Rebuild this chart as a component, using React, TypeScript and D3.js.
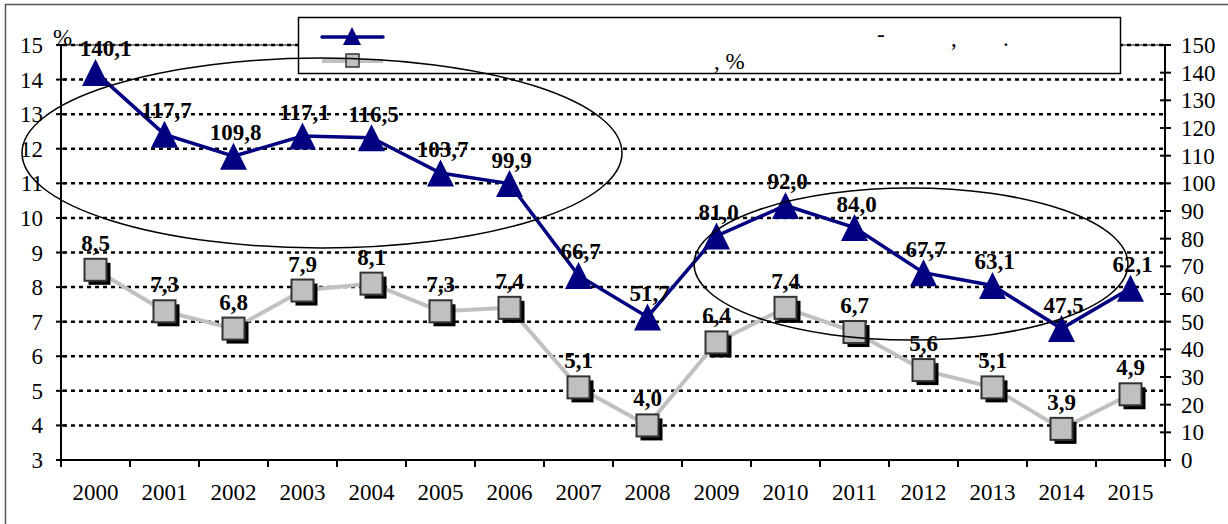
import React from 'react';
import * as d3 from 'd3';

// chart data
const years = ['2000', '2001', '2002', '2003', '2004', '2005', '2006', '2007', '2008', '2009', '2010', '2011', '2012', '2013', '2014', '2015'];
const blueValues = [140.1, 117.7, 109.8, 117.1, 116.5, 103.7, 99.9, 66.7, 51.7, 81.0, 92.0, 84.0, 67.7, 63.1, 47.5, 62.1];
const grayValues = [8.5, 7.3, 6.8, 7.9, 8.1, 7.3, 7.4, 5.1, 4.0, 6.4, 7.4, 6.7, 5.6, 5.1, 3.9, 4.9];
const leftTicks = [3, 4, 5, 6, 7, 8, 9, 10, 11, 12, 13, 14, 15];
const rightTicks = [0, 10, 20, 30, 40, 50, 60, 70, 80, 90, 100, 110, 120, 130, 140, 150];

const W = 1228;
const H = 524;
const FONT = 'Liberation Serif, serif';
const NAVY = '#000080';
const GRAY = '#c0c0c0';
const AXIS_FS = 23;

const fmt = (v: number) => v.toFixed(1).replace('.', ',');

const App: React.FC = () => {
    const x = d3.scaleBand<string>().domain(years).range([61, 1165]);
    const yLeft = d3.scaleLinear().domain([3, 15]).range([460, 45]);
    const yRight = d3.scaleLinear().domain([0, 150]).range([460, 45]);
    const cx = (i: number) => (x(years[i]) as number) + x.bandwidth() / 2;

    const blueLine = d3.line<number>().x((_, i) => cx(i)).y(d => yRight(d));
    const grayLine = d3.line<number>().x((_, i) => cx(i)).y(d => yLeft(d));

    const tri = (px: number, py: number, s: number) =>
        `M${px},${py - s / 2}L${px + s / 2},${py + s / 2}L${px - s / 2},${py + s / 2}Z`;

    return (
        <svg width={W} height={H}
            style={{ position: 'absolute', left: 0, top: 0, background: '#fff', fontFamily: FONT }}>
            {/* outer frame */}
            <rect x={5.5} y={4.5} width={1400} height={700} fill="none" stroke="#555" strokeWidth={1.5} />

            {/* plot area top border */}
            <line x1={61} x2={1165} y1={45} y2={45} stroke="#808080" strokeWidth={2} />

            {/* grid */}
            {leftTicks.filter(t => t > 3).map(t => (
                <line key={'g' + t} x1={63} x2={1163} y1={yLeft(t)} y2={yLeft(t)}
                    stroke="#000" strokeWidth={2.5} strokeDasharray="4,4" />
            ))}

            {/* axes */}
            <line x1={61} x2={1165} y1={460} y2={460} stroke="#000" strokeWidth={2} />
            <line x1={61} x2={61} y1={45} y2={461} stroke="#000" strokeWidth={2} />
            <line x1={1165} x2={1165} y1={45} y2={461} stroke="#000" strokeWidth={2} />
            {years.map(yr => (
                <line key={'xt' + yr} x1={x(yr) as number} x2={x(yr) as number} y1={460} y2={467}
                    stroke="#000" strokeWidth={2} />
            ))}
            <line x1={1165} x2={1165} y1={460} y2={467} stroke="#000" strokeWidth={2} />
            {years.map((yr, i) => (
                <text key={'xl' + yr} x={cx(i)} y={500} textAnchor="middle" fontSize={AXIS_FS}>{yr}</text>
            ))}
            {leftTicks.map(t => (
                <g key={'lt' + t}>
                    <line x1={56} x2={66} y1={yLeft(t)} y2={yLeft(t)} stroke="#000" strokeWidth={2} />
                    <text x={43} y={yLeft(t) + 8} textAnchor="end" fontSize={AXIS_FS}>{t}</text>
                </g>
            ))}
            {rightTicks.map(t => (
                <g key={'rt' + t}>
                    <line x1={1160} x2={1171} y1={yRight(t)} y2={yRight(t)} stroke="#000" strokeWidth={2} />
                    <text x={1181} y={yRight(t) + 8} fontSize={AXIS_FS}>{t}</text>
                </g>
            ))}
            <text x={53} y={45} fontSize={AXIS_FS}>%</text>

            {/* gray series (left axis) */}
            <path d={grayLine(grayValues) as string} fill="none" stroke={GRAY} strokeWidth={4} />
            {grayValues.map((v, i) => (
                <g key={'sq' + i}>
                    <rect x={cx(i) - 11 + 4} y={yLeft(v) - 11 + 4} width={22} height={22} fill="#000" />
                    <rect x={cx(i) - 11} y={yLeft(v) - 11} width={22} height={22}
                        fill={GRAY} stroke="#333" strokeWidth={2} />
                </g>
            ))}

            {/* blue series (right axis) */}
            <path d={blueLine(blueValues) as string} fill="none" stroke={NAVY} strokeWidth={3.5} />
            {blueValues.map((v, i) => (
                <path key={'tr' + i} d={tri(cx(i), yRight(v), 27)} fill={NAVY} />
            ))}

            {/* value labels */}
            {grayValues.map((v, i) => (
                <text key={'gl' + i} x={cx(i)} y={yLeft(v) - 19} textAnchor="middle"
                    fontSize={23} fontWeight="bold">{fmt(v)}</text>
            ))}
            {blueValues.map((v, i) => (
                <text key={'bl' + i} x={cx(i) + (i === 0 ? 10 : 2)} y={yRight(v) - 16} textAnchor="middle"
                    fontSize={23} fontWeight="bold">{fmt(v)}</text>
            ))}

            {/* legend */}
            <rect x={298.5} y={17.5} width={822} height={56} fill="#fff" stroke="#000" strokeWidth={1.5} />
            <line x1={322} x2={383} y1={37} y2={37} stroke={NAVY} strokeWidth={3.5} strokeLinecap="round" />
            <path d={tri(352, 36, 18)} fill={NAVY} />
            <line x1={322} x2={383} y1={61} y2={61} stroke={GRAY} strokeWidth={4} />
            <rect x={346} y={54} width={13} height={13} fill={GRAY} stroke="#333" strokeWidth={1.5} />
            <text x={877} y={42} fontSize={AXIS_FS}>-</text>
            <text x={951} y={46} fontSize={AXIS_FS}>,</text>
            <text x={1003} y={46} fontSize={AXIS_FS}>.</text>
            <text x={714} y={69} fontSize={AXIS_FS}>, %</text>

            {/* highlight ellipses */}
            <ellipse cx={322} cy={153} rx={300} ry={95} fill="none" stroke="#000" strokeWidth={1.5} />
            <ellipse cx={911} cy={264} rx={217} ry={76} fill="none" stroke="#000" strokeWidth={1.5} />
        </svg>
    );
};

export default App;
